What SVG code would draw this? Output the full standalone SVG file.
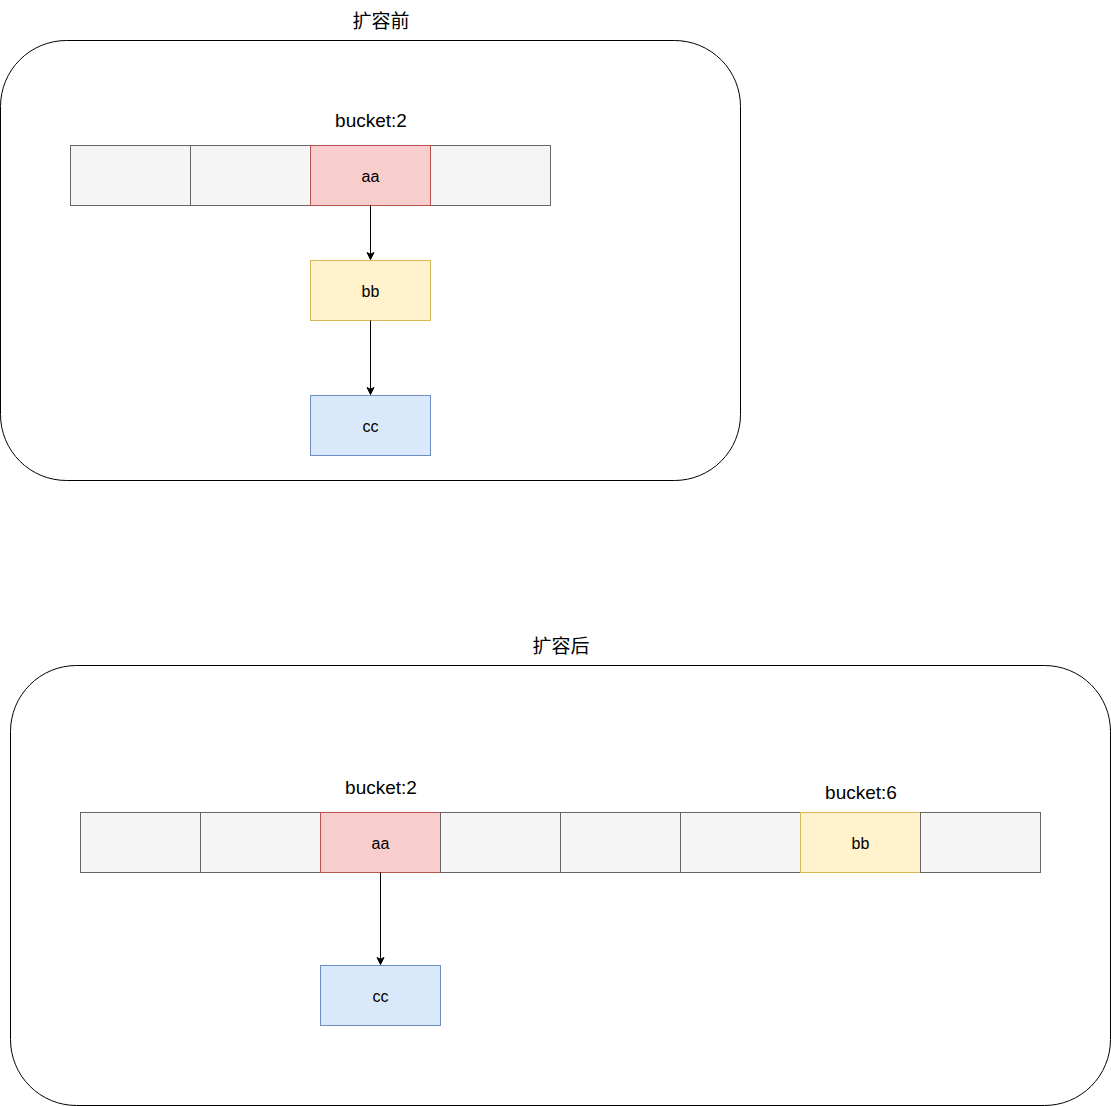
<svg xmlns="http://www.w3.org/2000/svg" width="1111" height="1106" viewBox="0 0 1111 1106">
<style>
.frame{fill:#ffffff;stroke:#000000;stroke-width:1}
.g{fill:#f5f5f5;stroke:#666666}
.r{fill:#f8cecc;stroke:#b85450}
.y{fill:#fff2cc;stroke:#d6b656}
.b{fill:#dae8fc;stroke:#6c8ebf}
.t{font-family:"Liberation Sans",Arial,sans-serif;font-size:16px;fill:#000;text-anchor:middle;dominant-baseline:central}
.lb{font-family:"Liberation Sans",Arial,sans-serif;font-size:19px;fill:#000;text-anchor:middle;dominant-baseline:central}
.cn{font-family:"Liberation Sans","Noto Sans CJK SC",sans-serif;font-size:19px;fill:#000;text-anchor:middle;dominant-baseline:central}
.e{stroke:#000;stroke-width:1;fill:none}
</style>
<defs>
<marker id="arr" markerWidth="10" markerHeight="10" refX="8" refY="5" orient="auto" markerUnits="userSpaceOnUse">
<path d="M1,1.5 L8,5 L1,8.5 L2.8,5 Z" fill="#000" stroke="#000" stroke-width="1"/>
</marker>
</defs>
<g id="before-frame">
<rect class="frame" x="0.5" y="40.5" width="740" height="440" rx="66" ry="66"/>
<text class="cn" x="381" y="21">扩容前</text>
</g>
<g id="before-label"><text class="lb" x="371" y="120">bucket:2</text></g>
<g id="b-cell0"><rect class="g" x="70.5" y="145.5" width="120" height="60"/></g>
<g id="b-cell1"><rect class="g" x="190.5" y="145.5" width="120" height="60"/></g>
<g id="b-cell3"><rect class="g" x="430.5" y="145.5" width="120" height="60"/></g>
<g id="b-aa"><rect class="r" x="310.5" y="145.5" width="120" height="60"/><text class="t" x="370.5" y="176">aa</text></g>
<g id="b-bb"><rect class="y" x="310.5" y="260.5" width="120" height="60"/><text class="t" x="370.5" y="291">bb</text></g>
<g id="b-cc"><rect class="b" x="310.5" y="395.5" width="120" height="60"/><text class="t" x="370.5" y="426">cc</text></g>

<g id="after-frame">
<rect class="frame" x="10.5" y="665.5" width="1100" height="440" rx="66" ry="66"/>
<text class="cn" x="561" y="646">扩容后</text>
</g>
<g id="after-label2"><text class="lb" x="381" y="787">bucket:2</text></g>
<g id="after-label6"><text class="lb" x="861" y="792">bucket:6</text></g>
<g id="a-cell0"><rect class="g" x="80.5" y="812.5" width="120" height="60"/></g>
<g id="a-cell1"><rect class="g" x="200.5" y="812.5" width="120" height="60"/></g>
<g id="a-aa"><rect class="r" x="320.5" y="812.5" width="120" height="60"/><text class="t" x="380.5" y="843">aa</text></g>
<g id="a-cell3"><rect class="g" x="440.5" y="812.5" width="120" height="60"/></g>
<g id="a-cell4"><rect class="g" x="560.5" y="812.5" width="120" height="60"/></g>
<g id="a-cell5"><rect class="g" x="680.5" y="812.5" width="120" height="60"/></g>
<g id="a-bb"><rect class="y" x="800.5" y="812.5" width="120" height="60"/><text class="t" x="860.5" y="843">bb</text></g>
<g id="a-cell7"><rect class="g" x="920.5" y="812.5" width="120" height="60"/></g>
<g id="a-cc"><rect class="b" x="320.5" y="965.5" width="120" height="60"/><text class="t" x="380.5" y="996">cc</text></g>

<g id="connectors">
<line class="e" x1="370.5" y1="205.5" x2="370.5" y2="259.5" marker-end="url(#arr)"/>
<line class="e" x1="370.5" y1="320.5" x2="370.5" y2="394.5" marker-end="url(#arr)"/>
<line class="e" x1="380.5" y1="872.5" x2="380.5" y2="964.5" marker-end="url(#arr)"/>
</g>
</svg>
